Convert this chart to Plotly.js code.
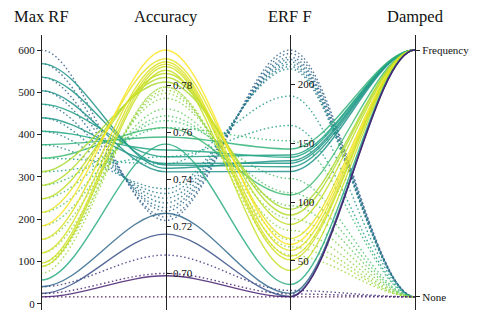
<!DOCTYPE html>
<html>
<head>
<meta charset="utf-8">
<script src="https://cdn.plot.ly/plotly-3.0.1.min.js"></script>
<style>
  html, body { margin: 0; padding: 0; background: #fff; }
  #chart { width: 485px; height: 323px; }
</style>
</head>
<body>
<div id="chart"></div>
<script>
// parallel coordinates: Max RF / Accuracy / ERF F / Damped
const axisNames = ['Max RF', 'Accuracy', 'ERF F', 'Damped'];
const dampedCats = ['None', 'Frequency'];

const maxRF = [
  600, 568, 536, 504, 472, 440, 408, 376, 344, 312, 280, 248, 216, 184, 152, 120, 96, 88, 72, 40, 24, 16,
  568, 536, 504, 472, 440, 408, 376, 344, 312, 280, 248, 216, 184, 152, 120, 96, 88, 56, 40, 24, 16
];
const accuracy = [
  0.7225, 0.7240, 0.7265, 0.7280, 0.7300, 0.7320, 0.7340, 0.7360, 0.7466, 0.7496, 0.7620, 0.7650, 0.7670, 0.7700, 0.7745, 0.7766, 0.7780, 0.7793, 0.7793, 0.7078, 0.7000, 0.6900,
  0.7447, 0.7461, 0.7432, 0.7496, 0.7468, 0.7525, 0.7580, 0.7620, 0.7814, 0.7833, 0.7850, 0.7913, 0.7950, 0.7900, 0.7890, 0.7880, 0.7864, 0.7550, 0.7256, 0.7167, 0.6990
];
const erfF = [
  229, 226, 223, 221, 219, 217, 215, 213, 190, 165, 152, 120, 108, 97, 86, 76, 68, 62, 55, 25, 22, 19.5,
  135, 130, 126, 140, 133, 138, 145, 106, 94, 89, 81, 69, 64, 59, 54, 51, 42, 30, 22.5, 20, 19.5
];
const damped = [
  'None', 'None', 'None', 'None', 'None', 'None', 'None', 'None', 'None', 'None', 'None',
  'None', 'None', 'None', 'None', 'None', 'None', 'None', 'None', 'None', 'None', 'None',
  'Frequency', 'Frequency', 'Frequency', 'Frequency', 'Frequency', 'Frequency', 'Frequency',
  'Frequency', 'Frequency', 'Frequency', 'Frequency', 'Frequency', 'Frequency', 'Frequency',
  'Frequency', 'Frequency', 'Frequency', 'Frequency', 'Frequency', 'Frequency', 'Frequency'
];

const maxRFTicks = [0, 100, 200, 300, 400, 500, 600];
const accuracyTicks = [0.70, 0.72, 0.74, 0.76, 0.78];
const erfTicks = [50, 100, 150, 200];

// normalised axis padding (matplotlib-ish margins)
const tLo = -0.053, tHi = 1.061;
const font = "'Liberation Serif', 'DejaVu Serif', serif";

const viridis = ['#440154', '#482475', '#414487', '#355f8d', '#2a788e', '#21918c',
                 '#22a884', '#44bf70', '#7ad151', '#bddf26', '#fde725'];
function hex2rgb(h) { return [1, 3, 5].map(i => parseInt(h.substr(i, 2), 16)); }
function viridisAt(f) {
  f = Math.min(1, Math.max(0, f)) * (viridis.length - 1);
  const i = Math.min(Math.floor(f), viridis.length - 2), w = f - i;
  const a = hex2rgb(viridis[i]), b = hex2rgb(viridis[i + 1]);
  return 'rgb(' + a.map((v, k) => Math.round(v + (b[k] - v) * w)).join(',') + ')';
}

const columns = [maxRF, accuracy, erfF, damped.map(d => dampedCats.indexOf(d))];
const lims = columns.map(c => [Math.min(...c), Math.max(...c)]);
const norm = (k, v) => (v - lims[k][0]) / (lims[k][1] - lims[k][0]);

let shapes = [];
for (let r = 0; r < maxRF.length; r++) {
  const t = columns.map((c, k) => norm(k, c[r]));
  let path = 'M 0,' + t[0];
  for (let k = 0; k < 3; k++) {
    path += ' C ' + (k + 1 / 3) + ',' + t[k] + ' ' + (k + 2 / 3) + ',' + t[k + 1] + ' ' + (k + 1) + ',' + t[k + 1];
  }
  const solid = damped[r] === 'Frequency';
  shapes.push({
    type: 'path', xref: 'x', yref: 'y', path: path, layer: 'below',
    opacity: 0.85,
    line: { color: viridisAt(norm(1, accuracy[r])), width: 1.4, dash: solid ? 'solid' : '1.5px,2.5px' }
  });
}

function realRange(k) {
  const [lo, hi] = lims[k];
  return [lo + (hi - lo) * tLo, lo + (hi - lo) * tHi];
}

function parAxis(k, extra) {
  return Object.assign({
    overlaying: 'y', anchor: 'free', position: k / 3,
    side: k === 0 ? 'left' : 'right',
    range: realRange(k), showgrid: false, zeroline: false,
    showline: true, linecolor: '#222', linewidth: 1.1,
    ticks: 'outside', ticklen: 4, tickwidth: 1, tickcolor: '#222',
    tickfont: { family: font, size: 11, color: '#111' },
    fixedrange: true
  }, extra);
}

// invisible anchor trace per axis so every axis gets drawn
const data = axisNames.map((n, k) => ({
  x: [k], y: [lims[k][0]], type: 'scatter', mode: 'markers',
  marker: { opacity: 0 }, hoverinfo: 'skip',
  yaxis: 'y' + (k + 2)
}));

const layout = {
  width: 485, height: 323,
  margin: { l: 41, r: 70, t: 35, b: 13 },
  paper_bgcolor: '#fff', plot_bgcolor: '#fff',
  font: { family: font, color: '#111' },
  showlegend: false,
  xaxis: { range: [0, 3], visible: false, fixedrange: true },
  yaxis: { range: [tLo, tHi], visible: false, fixedrange: true },
  yaxis2: parAxis(0, { tickvals: maxRFTicks }),
  yaxis3: parAxis(1, { tickvals: accuracyTicks, tickformat: '.2f' }),
  yaxis4: parAxis(2, { tickvals: erfTicks }),
  yaxis5: parAxis(3, { tickvals: [0, 1], ticktext: dampedCats }),
  shapes: shapes,
  annotations: axisNames.map((n, k) => ({
    text: n, xref: 'x', x: k, yref: 'paper', y: 1, yanchor: 'bottom', yshift: 7,
    showarrow: false, font: { family: font, size: 16.5, color: '#111' }
  }))
};

Plotly.newPlot('chart', data, layout, { staticPlot: true });
</script>
</body>
</html>
